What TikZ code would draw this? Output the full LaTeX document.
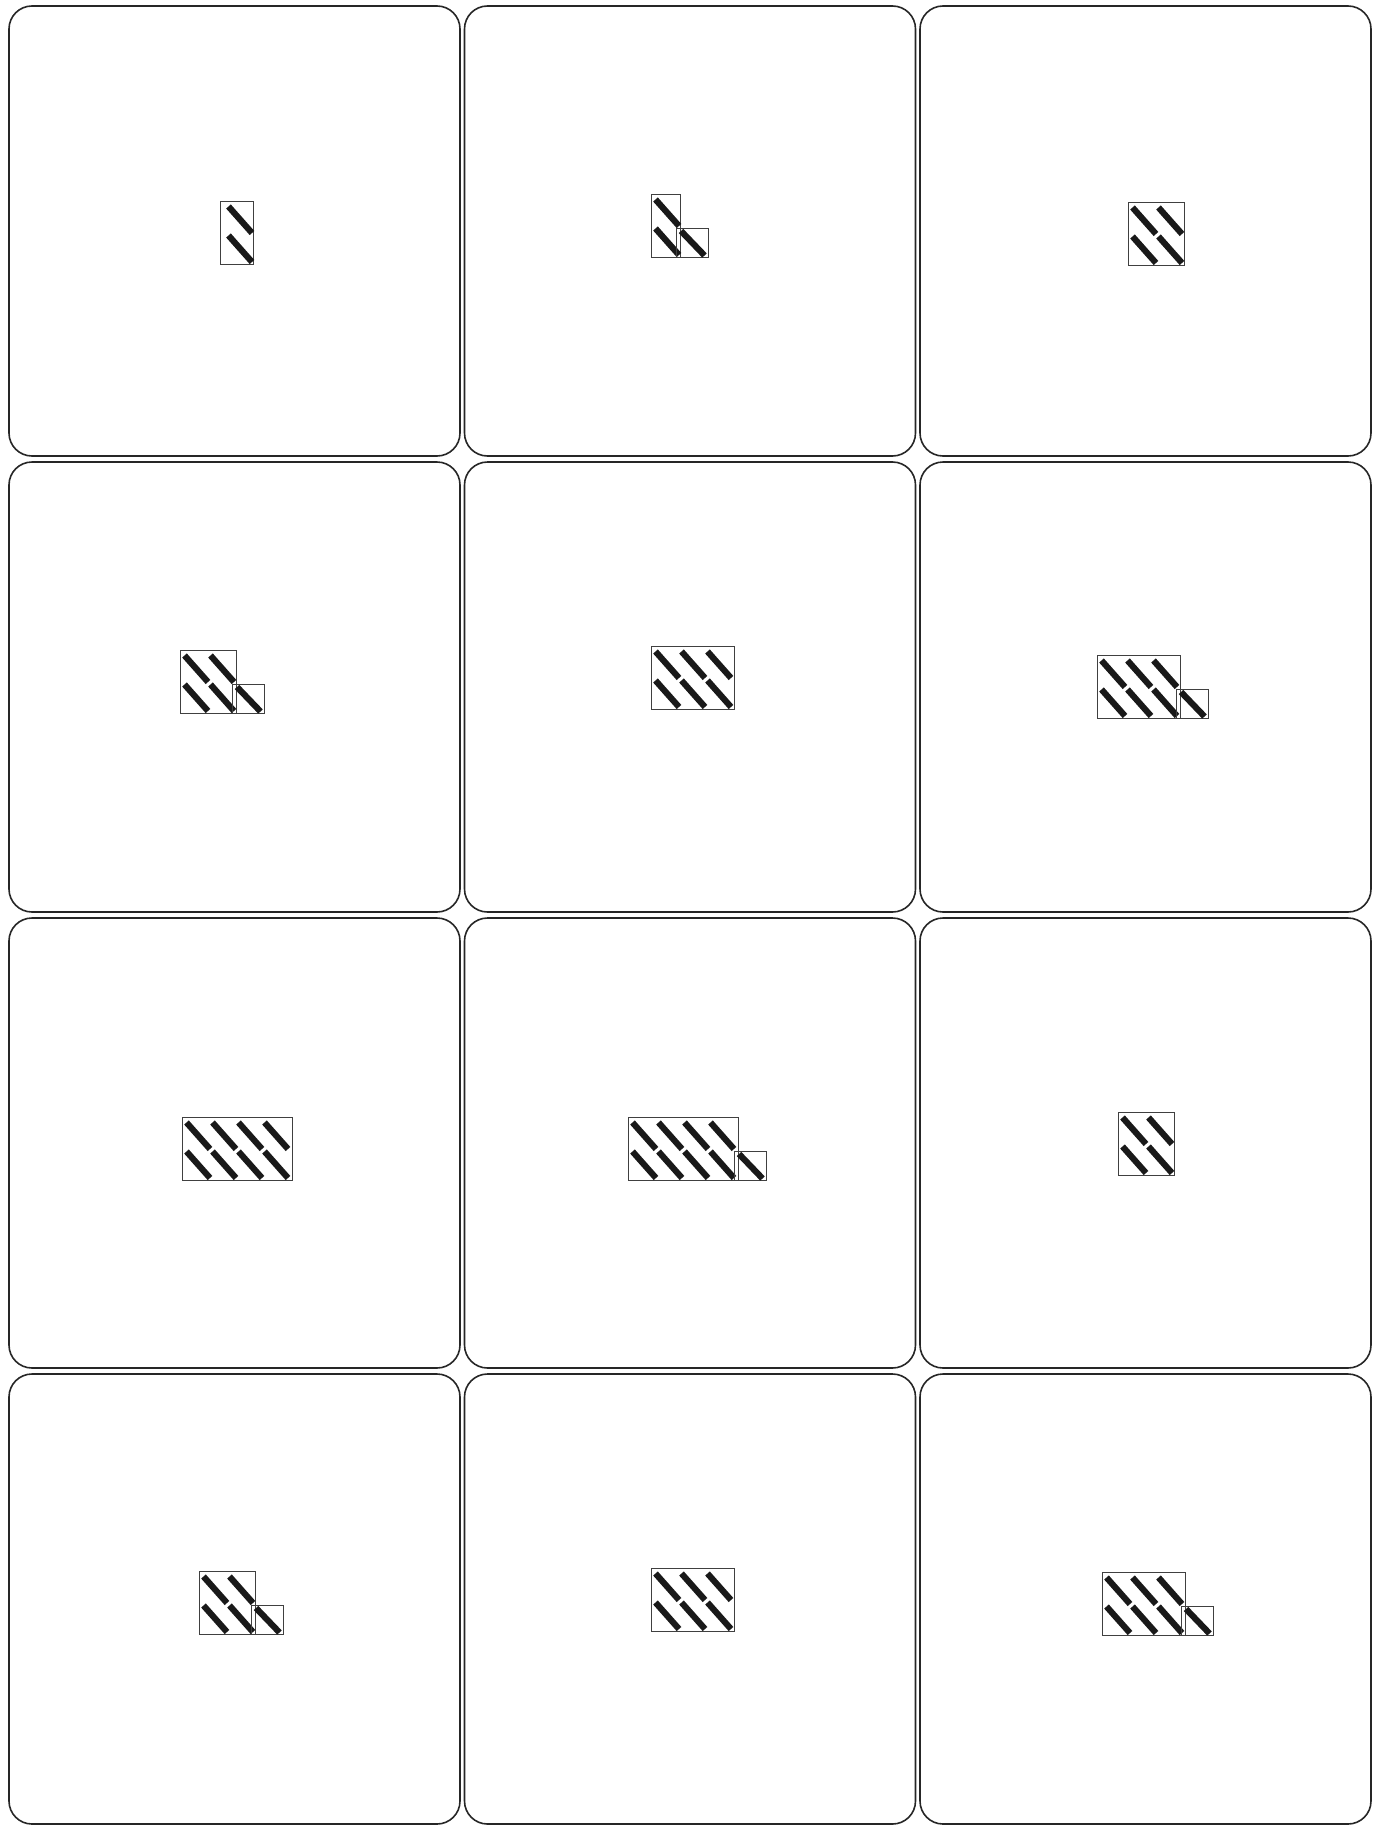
\documentclass[tikz,border=0pt]{standalone}
\usepackage{tikz}
\usetikzlibrary{arrows}

\begin{document}
\begin{tikzpicture}[x=0.5pt, y=-0.5pt,
			panel/.style={draw=black!85, line width=0.8pt, rounded corners=11.5pt},
			cellbox/.style={draw=black!75, line width=0.5pt},
			bar/.style={line width=3.1pt, line cap=butt, black!90}]
			%Bildbereich festlegen
			\useasboundingbox (0,0) rectangle (1379,1825);
			%Rahmen zeichnen
			\foreach \c in {0,1,2}
				\foreach \r in {0,1,2,3}
					\draw[panel] ({9+455.5*\c},{6+456*\r}) rectangle ++(451,450);
			%Muster: links/oben/Spalten/Zusatz/Rand
			\foreach \L/\T/\n/\e/\p in {220/201/1/0/4, 651/194/1/1/0, 1128/202/2/0/0,
					180/650/2/1/0, 651/646/3/0/0, 1097/655/3/1/0,
					182/1117/4/0/0, 628/1117/4/1/0, 1118/1112/2/0/0,
					199/1571/2/1/0, 651/1568/3/0/0, 1102/1572/3/1/0}
			{
				\draw[cellbox] (\L,\T) rectangle ++({27*\n+2+\p},63);
				% Balken
				\foreach \i in {1,...,\n}
					\foreach \j in {0,1}
						\draw[bar] ({\L+\p+4.5+26*(\i-1)},{\T+5.5+29*\j}) -- ++(23.5,26.5);
				% Zusatzfeld
				\ifnum\e=1
					\draw[cellbox] ({\L+27*\n-1.5},{\T+34.5}) rectangle ++(32,28.5);
					\draw[bar] ({\L+27*\n+3},{\T+37}) -- ++(23.5,24.5);
				\fi
			}
		\end{tikzpicture}
\end{document}
